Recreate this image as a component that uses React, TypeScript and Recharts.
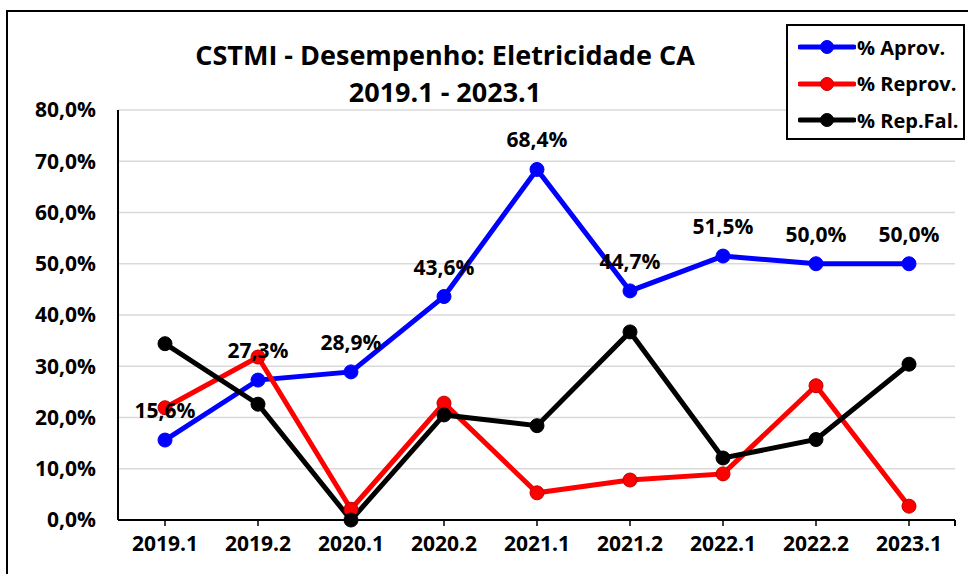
import React from 'react';
import { LineChart, Line, XAxis, YAxis, CartesianGrid, LabelList } from 'recharts';

const semesters = ['2019.1', '2019.2', '2020.1', '2020.2', '2021.1', '2021.2', '2022.1', '2022.2', '2023.1'];
const aprov = [15.6, 27.3, 28.9, 43.6, 68.4, 44.7, 51.5, 50.0, 50.0];
const reprov = [21.9, 31.8, 2.1, 22.8, 5.3, 7.8, 9.0, 26.2, 2.7];
const repFal = [34.4, 22.6, 0, 20.5, 18.4, 36.7, 12.1, 15.7, 30.4];
const yTicks = [0, 10, 20, 30, 40, 50, 60, 70, 80];

const legendItems = [
  { name: '% Aprov.', color: '#0000ff', stroke: '#0000ff' },
  { name: '% Reprov.', color: '#ff0000', stroke: '#c00000' },
  { name: '% Rep.Fal.', color: '#000000', stroke: '#000000' },
];

const data = semesters.map((s, i) => ({
  sem: s,
  aprov: aprov[i],
  reprov: reprov[i],
  repFal: repFal[i],
}));

const FONT = '"Open Sans", Lato, sans-serif';
const fmt = (v: number) => v.toFixed(1).replace('.', ',') + '%';
const tickStyle = { fill: '#000', fontSize: 21, fontWeight: 700, fontFamily: FONT };

export default function App() {
  return (
    <div style={{ position: 'absolute', left: 0, top: 0, width: 968, height: 574, overflow: 'hidden', background: '#fff', fontFamily: FONT }}>
      {/* outer chart frame */}
      <div style={{ position: 'absolute', left: 6, top: 10, width: 1000, height: 600, borderLeft: '2px solid #000', borderTop: '2px solid #000' }} />
      <div style={{ position: 'absolute', left: 0, top: 0 }}>
        <LineChart width={968} height={574} data={data} margin={{ top: 110, right: 13, left: 0, bottom: 0 }}>
          <CartesianGrid vertical={false} stroke="#d9d9d9" strokeWidth={1.5} />
          <XAxis
            dataKey="sem"
            height={54}
            padding={{ left: 47, right: 46 }}
            axisLine={{ stroke: '#000', strokeWidth: 2 }}
            tickLine={{ stroke: '#000', strokeWidth: 1.5 }}
            tickSize={6}
            tickMargin={10}
            tick={tickStyle}
          />
          <YAxis
            width={118}
            domain={[0, 80]}
            ticks={yTicks}
            tickFormatter={(v: number) => fmt(v)}
            axisLine={{ stroke: '#000', strokeWidth: 2 }}
            tickLine={false}
            tickSize={0}
            tickMargin={22}
            tick={tickStyle}
          />
          <Line dataKey="aprov" stroke="#0000ff" strokeWidth={5} dot={{ r: 7, fill: '#0000ff', stroke: '#0000ff', strokeWidth: 1 }} isAnimationActive={false} />
          <Line dataKey="reprov" stroke="#ff0000" strokeWidth={5} dot={{ r: 7, fill: '#ff0000', stroke: '#c00000', strokeWidth: 1 }} isAnimationActive={false} />
          <Line dataKey="repFal" stroke="#000000" strokeWidth={5} dot={{ r: 7, fill: '#000000', stroke: '#000000', strokeWidth: 1 }} isAnimationActive={false} />
          {/* labels for % Aprov. drawn on top of all series */}
          <Line dataKey="aprov" stroke="none" dot={false} activeDot={false} legendType="none" isAnimationActive={false}>
            <LabelList dataKey="aprov" position="top" offset={22} formatter={(v: number) => fmt(v)} style={tickStyle} />
          </Line>
        </LineChart>
      </div>
      {/* tick at right end of the category axis */}
      <div style={{ position: 'absolute', left: 954, top: 520, width: 2, height: 6, background: '#000' }} />
      {/* title */}
      <div style={{ position: 'absolute', left: 145, top: 36, width: 600, textAlign: 'center', fontSize: 27, fontWeight: 700, lineHeight: '37px', color: '#000' }}>
        <div>CSTMI - Desempenho: Eletricidade CA</div>
        <div>2019.1 - 2023.1</div>
      </div>
      {/* legend */}
      <div style={{ position: 'absolute', left: 786, top: 24, width: 175, height: 112, border: '2px solid #000', background: '#fff', boxSizing: 'content-box' }}>
        {legendItems.map((it, i) => (
          <div key={it.name} style={{ position: 'absolute', left: 10, top: 8 + i * 36.5, height: 26, display: 'flex', alignItems: 'center' }}>
            <svg width={58} height={20}>
              <line x1={2} y1={10} x2={56} y2={10} stroke={it.color} strokeWidth={5} strokeLinecap="round" />
              <circle cx={29} cy={10} r={6.5} fill={it.color} stroke={it.stroke} strokeWidth={1} />
            </svg>
            <span style={{ fontSize: 20, fontWeight: 700, marginLeft: 1, color: '#000', whiteSpace: 'nowrap' }}>{it.name}</span>
          </div>
        ))}
      </div>
    </div>
  );
}
